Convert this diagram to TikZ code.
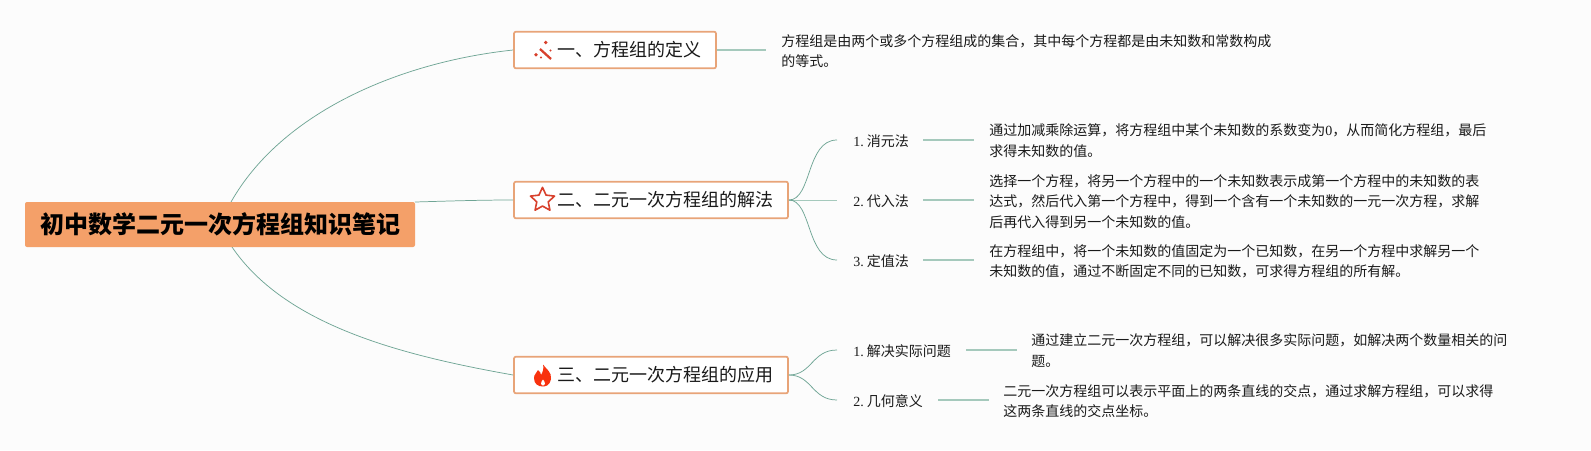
\documentclass[tikz,border=0pt]{standalone}
\usepackage{fontspec}
\setmainfont{Liberation Serif}
\newfontfamily\cjk{Noto Sans CJK SC}
\usetikzlibrary{shapes.geometric}
\definecolor{bgc}{HTML}{FCFCFC}
\definecolor{rootc}{HTML}{F4A069}
\definecolor{boxb}{HTML}{E8A478}
\definecolor{thin}{HTML}{6FA595}
\definecolor{thick}{HTML}{A5C9BC}
\definecolor{ink}{HTML}{1A1A1A}
\definecolor{redi}{HTML}{D8402C}
\definecolor{flame}{HTML}{F8320E}
\tikzset{
  x=0.75pt,y=-0.75pt,
  rootbox/.style={rectangle,rounded corners=1.5pt,fill=rootc,inner sep=0pt,minimum width=292.5pt,minimum height=33.75pt,font=\cjk\fontsize{18}{20}\selectfont\bfseries,text=black},
  topicbox/.style={rectangle,rounded corners=1.5pt,draw=boxb,line width=1.3pt,fill=white,inner sep=0pt,minimum height=27.5pt},
  topictext/.style={anchor=west,inner sep=0pt,font=\cjk\fontsize{13.5}{16}\selectfont,text=ink},
  sublabel/.style={anchor=west,inner sep=0pt,font=\fontsize{10.5}{14}\selectfont,text=ink},
  detail/.style={anchor=west,inner sep=0pt,align=left,font=\fontsize{10.5}{15.4}\selectfont\cjk,text=ink},
  curve/.style={draw=thin,line width=0.55pt},
  stub/.style={draw=thick,line width=0.9pt},
}
\newcommand{\zr}[1]{{\fontspec{Liberation Serif}#1}}
\begin{document}
\begin{tikzpicture}
\useasboundingbox[fill=bgc] (0,0) rectangle (1591,450);
\coordinate (r1) at (231,202);
\coordinate (r2) at (415,202);
\coordinate (r3) at (232,247);
\node[topicbox,minimum width=151.5pt] (t1) at (615,50) {};
\node[topicbox,minimum width=205.5pt] (t2) at (651,200) {};
\node[topicbox,minimum width=205.5pt] (t3) at (651,375) {};
\draw[curve] (r1) .. controls (282,112) and (400,62) .. (t1.west);
\draw[curve] (r2) .. controls (450,201) and (480,200) .. (t2.west);
\draw[curve] (r3) .. controls (285,325) and (400,355) .. (t3.west);
\node[rootbox] (root) at (220,224.5) {初中数学二元一次方程组知识笔记};
\node[topictext] (t1t) at (557.5,50) {一、方程组的定义};
\node[topictext] (t2t) at (557.5,200) {二、二元一次方程组的解法};
\node[topictext] (t3t) at (557.5,375) {三、二元一次方程组的应用};
% icons
\draw[redi,line width=1.7pt] (540,49) -- (551,59);
\foreach \p/\q/\r in {545.7/42.5/1.8,536/54.8/1.9,550.5/50.5/1.1,541/57.5/1.1}{\fill[redi] (\p,\q) circle (\r);}
\node[star,star points=5,star point ratio=2.1,draw=redi,line width=1.2pt,line join=round,fill=white,minimum size=19pt,inner sep=0pt] (ic2) at (542.5,200) {};
\fill[flame] (543,364.5) .. controls (546,369) and (552,372) .. (551,379) .. controls (550,385) and (546,386.5) .. (543,386.5) .. controls (538,386.5) and (534,384) .. (534,378) .. controls (534,374) and (537,373) .. (538,370) .. controls (540,372) and (541,373) .. (541,375) .. controls (543,372) and (544,368) .. (543,364.5) -- cycle;
\fill[white] (543,379.5) .. controls (545.5,382) and (545.5,385.5) .. (543,385.5) .. controls (540.5,385.5) and (540.5,382) .. (543,379.5) -- cycle;
% details
\coordinate (d1a) at (766,50);
\draw[stub] (t1.east) -- (d1a);
\node[detail] (d1) at (781,51) {方程组是由两个或多个方程组成的集合，其中每个方程都是由未知数和常数构成\\的等式。};
\foreach \n/\y/\t in {a/140/{1.\hspace{2.3pt}{\cjk 消元法}},b/200/{2.\hspace{2.3pt}{\cjk 代入法}},c/260/{3.\hspace{2.3pt}{\cjk 定值法}}}{
  \node[sublabel] (s\n) at (853,\y+1) {\t};
  \coordinate (sl\n) at (837,\y);
  \coordinate (sr\n) at (923,\y);
  \coordinate (se\n) at (974,\y);
  \draw[stub] (sr\n) -- (se\n);
}
\draw[curve] (t2.east) .. controls (812,200) and (806,140) .. (sla);
\draw[stub,line width=0.75pt] (t2.east) -- (slb);
\draw[curve] (t2.east) .. controls (812,200) and (806,260) .. (slc);
\node[detail] (d2) at (989,140.5) {通过加减乘除运算，将方程组中某个未知数的系数变为\zr{0}，从而简化方程组，最后\\求得未知数的值。};
\node[detail] (d3) at (989,201.5) {选择一个方程，将另一个方程中的一个未知数表示成第一个方程中的未知数的表\\达式，然后代入第一个方程中，得到一个含有一个未知数的一元一次方程，求解\\后再代入得到另一个未知数的值。};
\node[detail] (d4) at (989,261.5) {在方程组中，将一个未知数的值固定为一个已知数，在另一个方程中求解另一个\\未知数的值，通过不断固定不同的已知数，可求得方程组的所有解。};
% branch 3
\node[sublabel] (se) at (853,351) {1.\hspace{2.3pt}{\cjk 解决实际问题}};
\node[sublabel] (sf) at (853,401) {2.\hspace{2.3pt}{\cjk 几何意义}};
\coordinate (sle) at (837,350);
\coordinate (slf) at (837,400);
\coordinate (sre) at (966,350);
\coordinate (see) at (1017,350);
\coordinate (srf) at (938,400);
\coordinate (sef) at (989,400);
\draw[curve] (t3.east) .. controls (812,375) and (812,350) .. (sle);
\draw[curve] (t3.east) .. controls (812,375) and (812,400) .. (slf);
\draw[stub] (sre) -- (see);
\draw[stub] (srf) -- (sef);
\node[detail] (d5) at (1031,350.5) {通过建立二元一次方程组，可以解决很多实际问题，如解决两个数量相关的问\\题。};
\node[detail] (d6) at (1003,401) {二元一次方程组可以表示平面上的两条直线的交点，通过求解方程组，可以求得\\这两条直线的交点坐标。};
\end{tikzpicture}
\end{document}
